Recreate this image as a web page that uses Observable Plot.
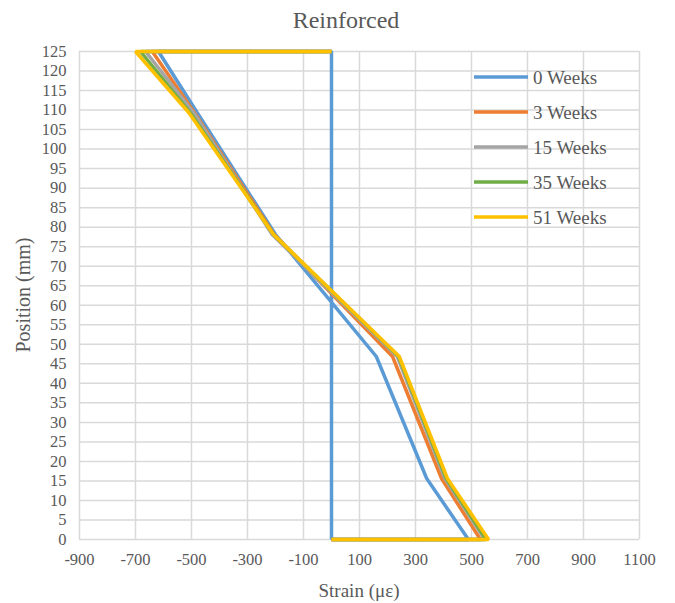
<!DOCTYPE html>
<html>
<head>
<meta charset="utf-8">
<script src="https://cdn.jsdelivr.net/npm/d3@7"></script>
<script src="https://cdn.jsdelivr.net/npm/@observablehq/plot@0.6"></script>
<style>
  body { margin: 0; background: #fff; }
  #chart { position: relative; width: 675px; height: 603px; }
  #chart svg, #chart svg text { font-family: "Liberation Serif", Tinos, "Times New Roman", serif !important; }
</style>
</head>
<body>
<div id="chart"></div>
<script>
// Data
const positions = [0, 15.625, 46.875, 78.125, 109.375, 125];
const seriesNames = ["0 Weeks", "3 Weeks", "15 Weeks", "35 Weeks", "51 Weeks"];
const week0  = [489, 340, 160, -200, -480, -618];
const week3  = [532, 393, 218, -205, -490, -640];
const week15 = [548, 405, 235, -212, -493, -664];
const week35 = [552, 410, 240, -207, -505, -682];
const week51 = [561, 414, 242, -207, -510, -700];
const xTicks = [-900, -700, -500, -300, -100, 100, 300, 500, 700, 900, 1100];
const yTicks = d3.range(0, 126, 5);
const colors = ["#5B9BD5", "#ED7D31", "#A5A5A5", "#70AD47", "#FFC000"];

const allSeries = [week0, week3, week15, week35, week51];
const rows = [];
allSeries.forEach((vals, i) => {
  const name = seriesNames[i];
  rows.push({series: name, strain: 0, pos: positions[0]});
  vals.forEach((v, j) => rows.push({series: name, strain: v, pos: positions[j]}));
  rows.push({series: name, strain: 0, pos: positions[positions.length - 1]});
  if (i === 0) rows.push({series: name, strain: 0, pos: positions[0]});
});

const textColor = "#595959";
const fmt = d => String(d);

const plot = Plot.plot({
  width: 675,
  height: 603,
  marginTop: 51,
  marginBottom: 64,
  marginLeft: 79,
  marginRight: 36,
  style: {fontSize: "16px", color: textColor, background: "#fff"},
  x: {domain: [-900, 1100], ticks: xTicks, tickSize: 0, tickPadding: 14, label: null, tickFormat: fmt},
  y: {domain: [0, 125], ticks: yTicks, tickSize: 0, tickPadding: 13, label: null, tickFormat: fmt},
  color: {domain: seriesNames, range: colors},
  marks: [
    Plot.gridX(xTicks, {stroke: "#d9d9d9", strokeOpacity: 1, strokeWidth: 1.5}),
    Plot.gridY(yTicks, {stroke: "#d9d9d9", strokeOpacity: 1, strokeWidth: 1.5}),
    Plot.axisX({ticks: xTicks, tickSize: 0, tickPadding: 14, fill: textColor, fontSize: 16.5, tickFormat: fmt}),
    Plot.axisY({ticks: yTicks, tickSize: 0, tickPadding: 13, fill: textColor, fontSize: 16.5, tickFormat: fmt}),
    Plot.line(rows, {x: "strain", y: "pos", z: "series", stroke: "series", strokeWidth: 3.5, strokeLinejoin: "miter", strokeLinecap: "butt"})
  ]
});

document.getElementById("chart").appendChild(plot);

const svg = d3.select(plot);
// Title
svg.append("text").attr("x", 346).attr("y", 28).attr("text-anchor", "middle")
  .attr("font-size", 24).attr("fill", textColor).text("Reinforced");
// Axis titles
svg.append("text").attr("x", 359).attr("y", 597).attr("text-anchor", "middle")
  .attr("font-size", 19).attr("fill", textColor).text("Strain (με)");
svg.append("text").attr("transform", "translate(30,295) rotate(-90)").attr("text-anchor", "middle")
  .attr("font-size", 20).attr("fill", textColor).text("Position (mm)");
// Legend
const legendY = [77, 112, 147, 182, 217];
seriesNames.forEach((name, i) => {
  svg.append("line").attr("x1", 474).attr("x2", 528).attr("y1", legendY[i]).attr("y2", legendY[i])
    .attr("stroke", colors[i]).attr("stroke-width", 3.5);
  svg.append("text").attr("x", 533).attr("y", legendY[i]).attr("dy", "0.35em").attr("text-anchor", "start")
    .attr("font-size", 19).attr("fill", textColor).text(name);
});
</script>
</body>
</html>
